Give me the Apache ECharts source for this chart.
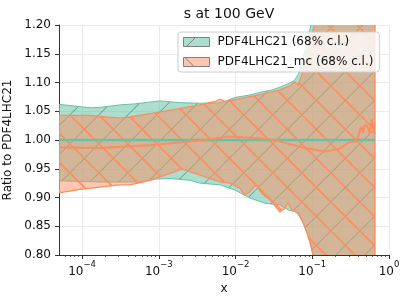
<!DOCTYPE html>
<html><head><meta charset="utf-8">
<script src="https://cdn.jsdelivr.net/npm/echarts@6/dist/echarts.min.js"></script>
<style>html,body{margin:0;padding:0;background:#fff}#c{width:407px;height:299px}</style>
</head><body><div id="c"></div>
<script>
// ---- tick positions ----
const xMajorTicks = [1e-4, 1e-3, 1e-2, 1e-1, 1];
const xMinorTicks = [6e-5, 7e-5, 8e-5, 9e-5,
  2e-4, 3e-4, 4e-4, 5e-4, 6e-4, 7e-4, 8e-4, 9e-4,
  2e-3, 3e-3, 4e-3, 5e-3, 6e-3, 7e-3, 8e-3, 9e-3,
  2e-2, 3e-2, 4e-2, 5e-2, 6e-2, 7e-2, 8e-2, 9e-2,
  0.2, 0.3, 0.4, 0.5, 0.6, 0.7, 0.8, 0.9];

// ---- PDF4LHC21 band (68% c.l.) ----
const pdfUpper = [[5e-5,1.062],[9.4e-5,1.058],[1.3e-4,1.056],[1.8e-4,1.057],[3.1e-4,1.061],[5e-4,1.063],
  [7.7e-4,1.066],[1.04e-3,1.068],[1.9e-3,1.065],[3.4e-3,1.064],[5.4e-3,1.064],[7.3e-3,1.067],[9.8e-3,1.074],
  [1.5e-2,1.078],[2.1e-2,1.083],[3e-2,1.087],[3.8e-2,1.092],[5.1e-2,1.099],[5.9e-2,1.104],[6.6e-2,1.115],
  [7.5e-2,1.140],[8.5e-2,1.170],[0.098,1.205],[0.15,1.35],[0.3,1.6],[0.653,1.8]];
const pdfLower = [[5e-5,0.929],[1.7e-4,0.927],[5.7e-4,0.927],[8.9e-4,0.932],[1.4e-3,0.933],[2.55e-3,0.930],
  [3.44e-3,0.925],[6.3e-3,0.922],[9.8e-3,0.913],[1.54e-2,0.899],[2.42e-2,0.890],[3.79e-2,0.887],[5.1e-2,0.877],
  [5.9e-2,0.876],[6.6e-2,0.870],[7.6e-2,0.856],[8.4e-2,0.841],[9.3e-2,0.823],[0.099,0.808],[0.105,0.795],
  [0.2,0.6],[0.653,0.3]];
const pdfCentral = [[5e-5,1.0],[0.653,1.0]];

// ---- PDF4LHC21_mc band (68% c.l.) ----
const mcUpper = [[5e-5,1.043],[1.27e-4,1.043],[1.48e-4,1.042],[3.1e-4,1.038],[4.2e-4,1.040],[7.7e-4,1.046],
  [1.9e-3,1.055],[3.4e-3,1.061],[5.4e-3,1.067],[6.3e-3,1.071],[7.3e-3,1.067],[1.14e-2,1.072],[2.1e-2,1.079],
  [3.8e-2,1.087],[5.1e-2,1.094],[5.9e-2,1.101],[6.5e-2,1.096],[7.2e-2,1.110],[8.5e-2,1.150],[0.11,1.205],
  [0.2,1.4],[0.653,1.7]];
const mcLower = [[5e-5,0.908],[9.4e-5,0.914],[1.71e-4,0.918],[3.1e-4,0.922],[4.2e-4,0.922],[5.7e-4,0.926],
  [7.7e-4,0.930],[1.04e-3,0.936],[1.4e-3,0.942],[1.63e-3,0.945],[1.89e-3,0.949],[2.19e-3,0.948],[2.55e-3,0.945],
  [3.44e-3,0.939],[4.65e-3,0.933],[6.3e-3,0.927],[8.45e-3,0.925],[1.14e-2,0.916],[1.32e-2,0.904],[1.54e-2,0.910],
  [1.84e-2,0.922],[2.21e-2,0.907],[2.81e-2,0.896],[3.79e-2,0.875],[4.4e-2,0.881],[4.81e-2,0.891],[5.42e-2,0.878],
  [6.6e-2,0.873],[7.6e-2,0.856],[8.4e-2,0.841],[9.3e-2,0.823],[0.099,0.808],[0.105,0.795],[0.2,0.6],[0.653,0.3]];
const mcCentral = [[5e-5,0.987],[1.7e-4,0.986],[7.7e-4,0.991],[3.4e-3,0.999],[8.5e-3,1.006],[2.1e-2,1.003],
  [3.2e-2,1.000],[6.9e-2,0.988],[0.146,0.980],[0.229,0.985],[0.309,0.997],[0.359,0.997],[0.393,1.003],
  [0.417,1.017],[0.44,1.023],[0.456,1.012],[0.484,1.026],[0.52,1.024],[0.562,1.012],[0.597,1.036],
  [0.625,1.020],[0.653,1.010]];

const names = ['PDF4LHC21 (68% c.l.)', 'PDF4LHC21_mc (68% c.l.)'];
const GREEN = '#66c2a5', ORANGE = '#fc8d62';
const FONT = 'DejaVu Sans';

function makeHatch(dir, color, width, s, phase) {
  const c = document.createElement('canvas');
  c.width = s; c.height = s;
  const ctx = c.getContext('2d');
  ctx.strokeStyle = color; ctx.lineWidth = width;
  ctx.beginPath();
  for (const o of [-s, 0, s]) {
    const p = phase + o;
    if (dir === '/') { ctx.moveTo(p, 0); ctx.lineTo(p - s, s); }
    else { ctx.moveTo(p, 0); ctx.lineTo(p + s, s); }
  }
  ctx.stroke();
  return { image: c, repeat: 'repeat' };
}
const greenHatch = makeHatch('/', '#4f9f86', 1, 29, 10.7);
const orangeHatch = makeHatch('\\', ORANGE, 1.6, 29, 13);

function bandSeries(name, upper, lower, fill, hatch, stroke, sw) {
  return {
    type: 'custom', name: name, coordinateSystem: 'cartesian2d', clip: true,
    data: [upper[0]], silent: true,
    itemStyle: { color: fill },
    renderItem: function (params, api) {
      const pts = upper.map(p => api.coord(p)).concat(lower.slice().reverse().map(p => api.coord(p)));
      const cs = params.coordSys;
      return {
        type: 'group',
        clipPath: { type: 'rect', shape: { x: cs.x, y: cs.y, width: cs.width, height: cs.height } },
        children: [
          { type: 'polygon', shape: { points: pts }, style: { fill: fill, stroke: null } },
          { type: 'polygon', shape: { points: pts }, style: { fill: hatch, stroke: null } },
          { type: 'polygon', shape: { points: pts }, style: { fill: null, stroke: stroke, lineWidth: sw } }
        ]
      };
    }
  };
}

function supLabel(v) {
  const e = Math.round(Math.log10(v));
  return '{b|10}{s|' + (e < 0 ? '\u2212' + (-e) : e) + '}';
}

const chart = echarts.init(document.getElementById('c'), null, { renderer: 'canvas' });
chart.setOption({
  animation: false,
  backgroundColor: '#ffffff',
  textStyle: { fontFamily: FONT },
  title: {
    text: 's at 100 GeV', left: 224, top: 2, textAlign: 'center',
    textStyle: { fontFamily: FONT, fontSize: 14, fontWeight: 'normal', color: '#111' }
  },
  grid: { left: 59, right: 18, top: 25, bottom: 44, containLabel: false, outerBoundsMode: 'none' },
  legend: {
    left: 178, top: 32, orient: 'vertical', selectedMode: false,
    padding: [4, 6, 4, 5], itemGap: 8, itemWidth: 26, itemHeight: 9,
    backgroundColor: 'rgba(255,255,255,0.8)', borderColor: '#cccccc', borderWidth: 1, borderRadius: 3,
    textStyle: { fontFamily: FONT, fontSize: 12, color: '#111', padding: [0, 0, 0, 3] },
    data: [
      { name: names[0], icon: 'rect', itemStyle: { color: 'rgba(102,194,165,0.55)', borderColor: '#808080', borderWidth: 1 } },
      { name: names[1], icon: 'rect', itemStyle: { color: 'rgba(252,141,98,0.5)', borderColor: '#808080', borderWidth: 1 } }
    ]
  },
  graphic: [
    { type: 'line', z: 200, silent: true, shape: { x1: 186.5, y1: 46.5, x2: 195.5, y2: 37.5 }, style: { stroke: '#808080', lineWidth: 1 } },
    { type: 'line', z: 200, silent: true, shape: { x1: 185, y1: 57.5, x2: 194, y2: 66.5 }, style: { stroke: '#808080', lineWidth: 1 } }
  ],
  xAxis: [{
    type: 'log', logBase: 10, min: 5e-5, max: 1,
    name: 'x', nameLocation: 'middle', nameGap: 19,
    nameTextStyle: { fontFamily: FONT, fontSize: 12, color: '#111' },
    axisLine: { show: true, lineStyle: { color: '#333', width: 1 } },
    axisTick: { show: true, length: 4, lineStyle: { color: '#333', width: 1 }, customValues: xMajorTicks },
    axisLabel: {
      customValues: xMajorTicks, margin: 5, formatter: supLabel, color: '#111',
      rich: {
        b: { fontFamily: FONT, fontSize: 12, color: '#111', lineHeight: 18, verticalAlign: 'bottom' },
        s: { fontFamily: FONT, fontSize: 8.5, color: '#111', lineHeight: 10, verticalAlign: 'top' }
      }
    },
    splitLine: { show: true, lineStyle: { color: '#ebebeb', width: 1 } },
    minorTick: { show: false }
  }, {
    type: 'log', logBase: 10, min: 5e-5, max: 1, position: 'bottom',
    axisLine: { show: false },
    axisTick: { show: true, length: 2, lineStyle: { color: '#333', width: 0.8 }, customValues: xMinorTicks },
    axisLabel: { show: false },
    splitLine: { show: false }
  }],
  yAxis: {
    type: 'value', min: 0.8, max: 1.2, interval: 0.05,
    name: 'Ratio to PDF4LHC21', nameLocation: 'middle', nameGap: 40, nameRotate: 90,
    nameTextStyle: { fontFamily: FONT, fontSize: 12, color: '#111' },
    axisLine: { show: true, lineStyle: { color: '#333', width: 1 } },
    axisTick: { show: true, length: 4, lineStyle: { color: '#333', width: 1 } },
    axisLabel: { margin: 8, color: '#111', fontFamily: FONT, fontSize: 12, formatter: v => v.toFixed(2) },
    splitLine: { show: true, lineStyle: { color: '#ebebeb', width: 1 } }
  },
  series: [
    bandSeries(names[0], pdfUpper, pdfLower, 'rgba(102,194,165,0.55)', greenHatch, GREEN, 1),
    bandSeries(names[1], mcUpper, mcLower, 'rgba(252,141,98,0.5)', orangeHatch, ORANGE, 1.3),
    { type: 'line', name: 'pdf central', data: pdfCentral, showSymbol: false, symbol: 'none', silent: true,
      lineStyle: { color: GREEN, width: 2.5 }, itemStyle: { color: GREEN }, z: 3 },
    { type: 'line', name: 'mc central', data: mcCentral, showSymbol: false, symbol: 'none', silent: true,
      lineStyle: { color: ORANGE, width: 2 }, itemStyle: { color: ORANGE }, z: 3 }
  ]
});
</script>
</body></html>
